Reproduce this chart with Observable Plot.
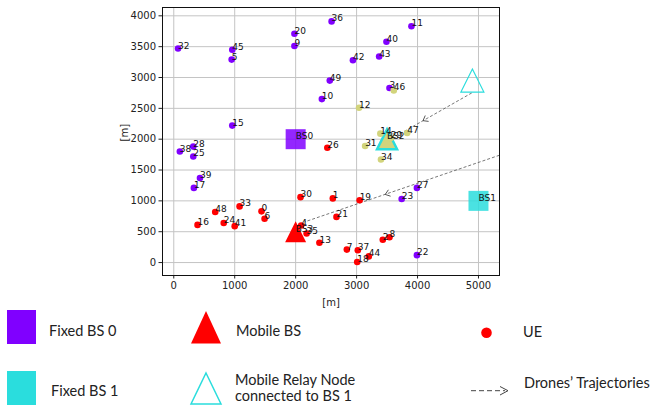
<!DOCTYPE html>
<html><head><meta charset="utf-8">
<script src="https://cdn.jsdelivr.net/npm/d3@7"></script>
<script src="https://cdn.jsdelivr.net/npm/@observablehq/plot@0.6"></script>
<style>
body{margin:0;background:#fff;width:657px;height:409px;overflow:hidden;}
#chart svg{display:block;}
</style></head><body>
<div id="chart"></div>
<div id="legend"></div>
<script>
// ---------- data ----------
const xTicks = [0, 1000, 2000, 3000, 4000, 5000];
const yTicks = [0, 500, 1000, 1500, 2000, 2500, 3000, 3500, 4000];

// UEs attached to Fixed BS 0 (purple)
const ids0 = [32, 45, 5, 20, 9, 15, 10, 36, 11, 40, 42, 43, 49, 3, 38, 28, 25, 39, 17, 27, 23, 22];
const x0 = [70, 960, 950, 1980, 1980, 960, 2430, 2590, 3900, 3490, 2940, 3370, 2560, 3540, 100, 320, 320, 430, 330, 3990, 3740, 3990];
const y0 = [3470, 3450, 3290, 3710, 3510, 2220, 2650, 3910, 3830, 3580, 3280, 3340, 2950, 2830, 1800, 1880, 1720, 1370, 1210, 1210, 1030, 120];

// UEs attached to the Mobile BS (red)
const idsM = [26, 1, 19, 21, 13, 7, 37, 18, 44, 2, 8, 30, 33, 48, 0, 6, 16, 24, 41, 4, 35];
const xM = [2520, 2610, 3050, 2670, 2390, 2840, 3020, 3010, 3200, 3430, 3540, 2080, 1080, 680, 1440, 1490, 390, 820, 1000, 2090, 2180];
const yM = [1860, 1040, 1010, 740, 320, 210, 200, 10, 100, 370, 410, 1060, 910, 820, 830, 710, 610, 640, 590, 600, 470];

// UEs attached to the Mobile Relay Node (khaki)
const idsR = [14, 31, 34, 47, 12, 46, 29];
const xR = [3390, 3140, 3400, 3830, 3040, 3610, 3560];
const yR = [2090, 1890, 1670, 2100, 2510, 2790, 2020];

// Fixed base stations
const bsNames = ["BS0", "BS1"];
const bsX = [2000, 5000];
const bsY = [2000, 1000];

// Mobile BS and relay
const mbsName = ["BS3"], mbsX = [2000], mbsY = [500];
const relayName = ["BS2"], relayX = [3500], relayY = [2000];
const relayStartX = [4900], relayStartY = [2950];

// Drone trajectories (start, end, arrow-head position)
const trajX1 = [4890, 5345], trajY1 = [2750, 1740];
const trajX2 = [3700, 2150], trajY2 = [2080, 660];
const headX = [4090, 3470], headY = [2300, 1104];

// ---------- styling ----------
const PURPLE = "#8000ff", RED = "#ff0000", CYAN = "#2adddd", KHAKI = "#d2d47c";
const W = 657, H = 310, mL = 162, mR = 158, mT = 7, mB = 35;
const xDom = [-185, 5345], yDom = [-210, 4135];

const rows = (ids, xs, ys) => ids.map((id, i) => ({id: String(id), x: xs[i], y: ys[i]}));
const ue0 = rows(ids0, x0, y0), ueM = rows(idsM, xM, yM), ueR = rows(idsR, xR, yR);
const bs = bsNames.map((n, i) => ({id: n, x: bsX[i], y: bsY[i], c: i === 0 ? PURPLE : CYAN}));
const mbs = rows(mbsName, mbsX, mbsY), relay = rows(relayName, relayX, relayY);
const relayStart = relayStartX.map((x, i) => ({x, y: relayStartY[i]}));
const traj = trajX1.map((x, i) => ({x1: x, y1: trajY1[i], x2: trajX2[i], y2: trajY2[i], hx: headX[i], hy: headY[i]}));

const triangle = {draw(ctx, size) { const r = Math.sqrt(size / Math.PI); ctx.moveTo(0, -r); ctx.lineTo(r, r); ctx.lineTo(-r, r); ctx.closePath(); }};
const square = {draw(ctx, size) { const r = Math.sqrt(size / Math.PI); ctx.rect(-r, -r, 2 * r, 2 * r); }};
function chevron(deg) {
  const a = deg * Math.PI / 180, c = Math.cos(a), s = Math.sin(a);
  return {draw(ctx, size) {
    const r = Math.sqrt(size / Math.PI);
    const p = [[r, -r * 0.75], [0, 0], [r, r * 0.75]].map(([u, v]) => [u * c - v * s, u * s + v * c]);
    ctx.moveTo(p[0][0], p[0][1]); ctx.lineTo(p[1][0], p[1][1]); ctx.lineTo(p[2][0], p[2][1]);
  }};
}
const kx = (W - mL - mR) / (xDom[1] - xDom[0]), ky = (H - mT - mB) / (yDom[1] - yDom[0]);
const headMarks = traj.map(t => {
  const phi = Math.atan2(-(t.y2 - t.y1) * ky, (t.x2 - t.x1) * kx) * 180 / Math.PI;
  return Plot.dot([t], {x: "hx", y: "hy", symbol: chevron(phi - 180), r: 4.5, fill: "none", stroke: "#444", strokeWidth: 0.9});
});

const labelOpts = {x: "x", y: "y", text: "id", textAnchor: "start", lineAnchor: "bottom", fontSize: 9, fill: "#111"};

const chart = Plot.plot({
  width: W, height: H,
  marginLeft: mL, marginRight: mR, marginTop: mT, marginBottom: mB,
  style: {fontFamily: "DejaVu Sans, sans-serif", fontSize: "10px", background: "white", color: "#222"},
  x: {domain: xDom},
  y: {domain: yDom},
  marks: [
    Plot.gridX(xTicks, {stroke: "#c4c4c4", strokeOpacity: 1}),
    Plot.gridY(yTicks, {stroke: "#c4c4c4", strokeOpacity: 1}),
    Plot.axisX({ticks: xTicks, tickFormat: d => String(d), tickSize: 3.5, tickPadding: 3, label: null, fill: "#222"}),
    Plot.axisY({ticks: yTicks, tickFormat: d => String(d), tickSize: 3.5, tickPadding: 3, label: null, fill: "#222"}),
    Plot.dot(bs, {x: "x", y: "y", fill: "c", symbol: square, r: 10, fillOpacity: 0.85}),
    Plot.link(traj, {x1: "x1", y1: "y1", x2: "x2", y2: "y2", stroke: "#555", strokeWidth: 0.8, strokeDasharray: "3,2"}),
    ...headMarks,
    Plot.dot(ue0, {x: "x", y: "y", r: 3.3, fill: PURPLE}),
    Plot.dot(ueM, {x: "x", y: "y", r: 3.3, fill: RED}),
    Plot.dot(mbs, {x: "x", y: "y", symbol: triangle, r: 10.5, fill: RED}),
    Plot.dot(relay, {x: "x", y: "y", symbol: triangle, r: 10, fill: KHAKI, stroke: CYAN, strokeWidth: 2.5}),
    Plot.dot(ueR, {x: "x", y: "y", r: 3.3, fill: KHAKI}),
    Plot.dot(relayStart, {x: "x", y: "y", symbol: triangle, r: 11.5, fill: "none", stroke: CYAN, strokeWidth: 1.2}),
    Plot.text(ue0, labelOpts),
    Plot.text(ueM, labelOpts),
    Plot.text(ueR, labelOpts),
    Plot.text(bs, labelOpts),
    Plot.text(mbs, labelOpts),
    Plot.text(relay, labelOpts),
    Plot.frame({stroke: "#111", strokeWidth: 1}),
    Plot.text(["[m]"], {frameAnchor: "bottom", dy: 27, lineAnchor: "middle", fontSize: 10, fill: "#222"}),
    Plot.text(["[m]"], {frameAnchor: "left", dx: -38, rotate: -90, fontSize: 10, fill: "#222"})
  ]
});
document.getElementById("chart").appendChild(chart);

// ---------- legend (below the plot) ----------
const legendText = [
  {t: "Fixed BS 0", x: 49, y: 26},
  {t: "Fixed BS 1", x: 51, y: 86},
  {t: "Mobile BS", x: 236, y: 26},
  {t: "Mobile Relay Node", x: 235, y: 75},
  {t: "connected to BS 1", x: 235, y: 91},
  {t: "UE", x: 523, y: 27},
  {t: "Drones\u2019 Trajectories", x: 524, y: 78}
];
const lg = d3.select("#legend").append("svg").attr("width", W).attr("height", 409 - H).style("display", "block");
lg.append("rect").attr("x", 7).attr("y", 0).attr("width", 29).attr("height", 34).attr("fill", PURPLE);
lg.append("rect").attr("x", 7).attr("y", 61).attr("width", 29).attr("height", 34).attr("fill", CYAN);
lg.append("path").attr("d", "M206,1L221,33.5L191,33.5Z").attr("fill", RED);
lg.append("path").attr("d", "M206,63L221,94L191,94Z").attr("fill", "none").attr("stroke", CYAN).attr("stroke-width", 1.5);
lg.append("circle").attr("cx", 486.5).attr("cy", 22.7).attr("r", 5.3).attr("fill", RED);
lg.append("line").attr("x1", 471).attr("x2", 505).attr("y1", 80.7).attr("y2", 80.7).attr("stroke", "#444").attr("stroke-width", 1).attr("stroke-dasharray", "5,3");
lg.append("path").attr("d", "M500,76.5L508,80.7L500,85").attr("fill", "none").attr("stroke", "#444").attr("stroke-width", 1);
lg.selectAll("text.l").data(legendText).join("text").attr("class", "l")
  .attr("x", d => d.x).attr("y", d => d.y).text(d => d.t)
  .attr("font-family", "Lato, 'Open Sans', sans-serif").attr("font-size", 14.5).attr("fill", "#222");
</script></body></html>
